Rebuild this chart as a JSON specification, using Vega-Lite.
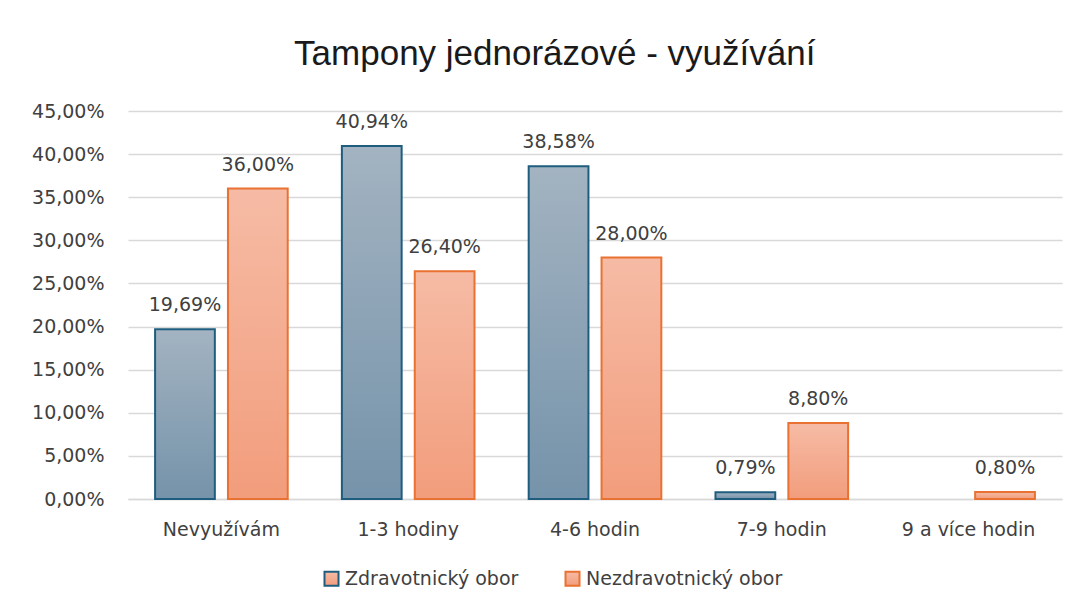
{
  "$schema": "https://vega.github.io/schema/vega-lite/v6.json",
  "width": 934,
  "height": 388,
  "autosize": {"type": "none"},
  "padding": {"left": 128, "top": 111, "right": 23, "bottom": 116},
  "background": "white",
  "config": {
    "locale": {"number": {"decimal": ",", "thousands": " ", "grouping": [3], "currency": ["", " Kč"]}},
    "font": "DejaVu Sans",
    "view": {"stroke": null}
  },
  "title": {
    "text": "Tampony jednorázové  - využívání",
    "font": "Liberation Sans",
    "fontSize": 35,
    "fontWeight": "normal",
    "color": "#1a1a1a",
    "anchor": "middle",
    "frame": "bounds",
    "dx": 8,
    "offset": 30
  },
  "data": {
    "values": [
      {"cat": "Nevyužívám", "series": "Zdravotnický obor", "value": 0.1969},
      {"cat": "Nevyužívám", "series": "Nezdravotnický obor", "value": 0.36},
      {"cat": "1-3 hodiny", "series": "Zdravotnický obor", "value": 0.4094},
      {"cat": "1-3 hodiny", "series": "Nezdravotnický obor", "value": 0.264},
      {"cat": "4-6 hodin", "series": "Zdravotnický obor", "value": 0.3858},
      {"cat": "4-6 hodin", "series": "Nezdravotnický obor", "value": 0.28},
      {"cat": "7-9 hodin", "series": "Zdravotnický obor", "value": 0.0079},
      {"cat": "7-9 hodin", "series": "Nezdravotnický obor", "value": 0.088},
      {"cat": "9 a více hodin", "series": "Nezdravotnický obor", "value": 0.008}
    ]
  },
  "encoding": {
    "x": {
      "field": "cat",
      "type": "nominal",
      "sort": ["Nevyužívám", "1-3 hodiny", "4-6 hodin", "7-9 hodin", "9 a více hodin"],
      "scale": {"paddingInner": 0.29, "paddingOuter": 0.145},
      "axis": {
        "title": null,
        "labelAngle": 0,
        "labelFontSize": 19,
        "labelColor": "#404040",
        "labelPadding": 21,
        "labelLimit": 0,
        "ticks": false,
        "domainColor": "#d9d9d9",
        "domainWidth": 1.5
      }
    },
    "xOffset": {
      "field": "series",
      "type": "nominal",
      "sort": ["Zdravotnický obor", "Nezdravotnický obor"],
      "scale": {"domain": ["Zdravotnický obor", "Nezdravotnický obor"], "paddingInner": 0.18}
    },
    "y": {
      "field": "value",
      "type": "quantitative",
      "scale": {"domain": [0, 0.45], "nice": false},
      "axis": {
        "title": null,
        "format": ".2%",
        "values": [0, 0.05, 0.1, 0.15, 0.2, 0.25, 0.3, 0.35, 0.4, 0.45],
        "labelFontSize": 19,
        "labelColor": "#404040",
        "labelPadding": 24,
        "ticks": false,
        "domain": false,
        "gridColor": "#d9d9d9",
        "gridWidth": 1.5
      }
    }
  },
  "layer": [
    {
      "mark": {"type": "bar", "strokeWidth": 2},
      "encoding": {
        "fill": {
          "condition": {
            "test": "datum.series === 'Zdravotnický obor'",
            "value": {"gradient": "linear", "x1": 0, "y1": 0, "x2": 0, "y2": 1, "stops": [{"offset": 0, "color": "#a3b3c1"}, {"offset": 1, "color": "#7593aa"}]}
          },
          "value": {"gradient": "linear", "x1": 0, "y1": 0, "x2": 0, "y2": 1, "stops": [{"offset": 0, "color": "#f6bba5"}, {"offset": 1, "color": "#f29d7c"}]}
        },
        "stroke": {
          "field": "series",
          "type": "nominal",
          "scale": {"domain": ["Zdravotnický obor", "Nezdravotnický obor"], "range": ["#1f5d7f", "#e97132"]},
          "legend": {
            "title": null,
            "orient": "none",
            "legendX": 194,
            "legendY": 458,
            "direction": "horizontal",
            "symbolType": "square",
            "symbolSize": 196,
            "symbolStrokeWidth": 2,
            "labelFontSize": 19,
            "labelColor": "#404040",
            "labelLimit": 0,
            "labelOffset": 4,
            "columnPadding": 42,
            "encode": {
              "symbols": {
                "update": {
                  "fill": {"signal": "datum.value === 'Zdravotnický obor' ? '#8fa4b6' : '#f4ad92'"},
                  "fillOpacity": {"value": 1}
                }
              }
            }
          }
        }
      }
    },
    {
      "mark": {"type": "text", "baseline": "bottom", "dy": -14, "fontSize": 19, "color": "#404040"},
      "encoding": {
        "text": {"field": "value", "type": "quantitative", "format": ".2%"}
      }
    }
  ]
}
